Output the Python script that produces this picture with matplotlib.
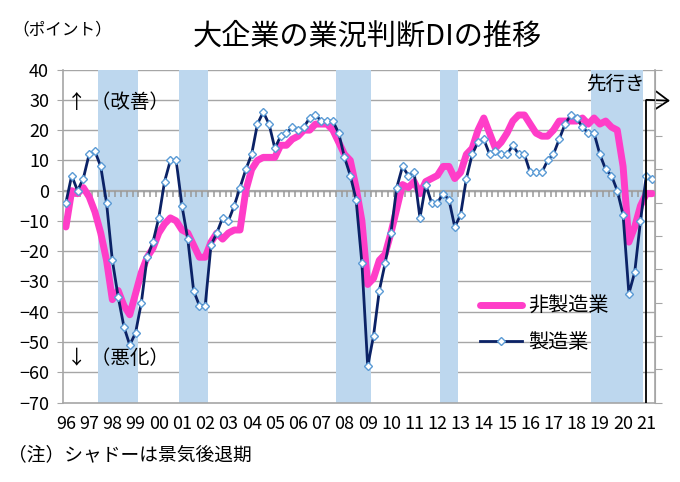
import matplotlib.pyplot as plt
import numpy as np

plt.rcParams['font.family'] = ['Noto Sans CJK JP', 'DejaVu Sans']

# quarterly, 1996 Q1 .. 2021 Q2 (last point = forecast)
years = ['96', '97', '98', '99', '00', '01', '02', '03', '04', '05', '06', '07', '08',
         '09', '10', '11', '12', '13', '14', '15', '16', '17', '18', '19', '20', '21']

mfg = [-4, 5, 0, 4, 12, 13, 8, -4, -23, -35, -45, -51, -47, -37, -22, -17,
       -9, 3, 10, 10, -5, -16, -33, -38, -38, -18, -14, -9, -10, -5, 1, 7,
       12, 22, 26, 22, 14, 18, 19, 21, 20, 21, 24, 25, 23, 23, 23, 19,
       11, 5, -3, -24, -58, -48, -33, -24, -14, 1, 8, 5, 6, -9, 2, -4,
       -4, -1, -3, -12, -8, 4, 12, 16, 17, 12, 13, 12, 12, 15, 12, 12,
       6, 6, 6, 10, 12, 17, 22, 25, 24, 21, 19, 19, 12, 7, 5, 0,
       -8, -34, -27, -10, 5, 4]

nonmfg = [-12, 0, -1, 1, -2, -7, -14, -23, -36, -33, -38, -41, -34, -27, -22, -19,
          -14, -11, -9, -10, -13, -14, -18, -22, -22, -17, -14, -16, -14, -13, -13, 0,
          7, 10, 11, 11, 11, 15, 15, 17, 18, 20, 20, 22, 22, 22, 20, 16,
          12, 10, 1, -10, -31, -29, -23, -21, -14, -6, 2, 1, 3, -1, 3, 4,
          5, 8, 8, 4, 6, 12, 14, 20, 24, 19, 14, 16, 19, 23, 25, 25,
          22, 19, 18, 18, 20, 23, 23, 23, 23, 24, 22, 24, 22, 23, 21, 20,
          8, -17, -12, -5, -1, -1]

# recession shading: first / last quarter index (0 = 1996 Q1)
shade_start = [6, 20, 47, 65, 91]
shade_end = [12, 24, 52, 67, 99]
forecast_from = 100

x = np.arange(len(mfg))
grey = '#A6A6A6'

fig = plt.figure(figsize=(6.8, 4.82), dpi=100)
ax = fig.add_axes([63/680, 1-402.5/482, (655-63)/680, (402.5-69.6)/482])
ax.set_xlim(-0.5, len(mfg)-0.5)
ax.set_ylim(-70, 40)

ax.set_yticks(np.arange(-70, 41, 10))
for v in np.arange(-60, 41, 10):
    ax.axhline(v, color=grey, lw=1, zorder=0)

for s, e in zip(shade_start, shade_end):
    ax.axvspan(s-0.5, e+0.5, color='#BDD7EE', lw=0, zorder=0.5)

# zero line with quarter ticks
ax.axhline(0, color=grey, lw=1.6, zorder=2)
ax.vlines(np.arange(-0.5, len(mfg)), -2.2, 0, color='#999999', lw=1.1, zorder=2.5)

ax.plot(x, nonmfg, color='#FF3DC8', lw=5, solid_capstyle='round', zorder=3, label='非製造業')
ax.plot(x, mfg, color='#0B2266', lw=2, marker='D', markersize=4,
        mfc='white', mec='#5B9BD5', mew=1, zorder=4, label='製造業')

ax.set_xticks(np.arange(0, len(mfg), 4))
ax.set_xticklabels(years)
ax.tick_params(axis='x', length=0, pad=9, labelsize=13)
ax.tick_params(axis='y', direction='out', length=4, color=grey, labelsize=13, pad=6)

for sp in ['left', 'bottom', 'right']:
    ax.spines[sp].set_color(grey)
    ax.spines[sp].set_linewidth(1.2)
ax.spines['top'].set_visible(False)

# unlabeled secondary axis on the right
ax2 = ax.twinx()
ax2.set_ylim(0, 10)
ax2.set_yticks(np.arange(0, 11))
ax2.set_yticklabels([])
ax2.tick_params(axis='y', direction='out', length=5, color=grey)
for sp in ['left', 'top', 'bottom']:
    ax2.spines[sp].set_visible(False)
ax2.spines['right'].set_color(grey)

# forecast marker
ax.vlines(forecast_from, -70, 30, color='black', lw=1.3, zorder=5)
ax.annotate('', xy=(670/680, 1-100.7/482), xycoords='figure fraction',
            xytext=(forecast_from, 30), textcoords='data',
            arrowprops=dict(arrowstyle='->,head_length=0.5,head_width=0.35', color='black',
                            lw=1.3, shrinkA=0, shrinkB=0, mutation_scale=18),
            annotation_clip=False, zorder=6)
ax.text(forecast_from - 0.3, 35, '先行き', ha='right', va='center', fontsize=14, zorder=6)

ax.text(0.2, 29, '↑ （改善）', ha='left', va='center', fontsize=14, zorder=6)
ax.text(0.2, -55.5, '↓ （悪化）', ha='left', va='center', fontsize=14, zorder=6)

ax.legend(loc='upper left', bbox_to_anchor=(462/680, 1-278/482),
          bbox_transform=fig.transFigure, frameon=False, fontsize=14.5,
          handlelength=2.1, labelspacing=0.75, handletextpad=0.3)

fig.text(12/680, 1-30/482, '（ポイント）', fontsize=12, ha='left', va='center')
fig.text(367/680, 1-37/482, '大企業の業況判断DIの推移', fontsize=21, ha='center', va='center')
fig.text(8/680, 1-455/482, '（注）シャドーは景気後退期', fontsize=13.5, ha='left', va='center')

fig.savefig('out.png', dpi=100)
